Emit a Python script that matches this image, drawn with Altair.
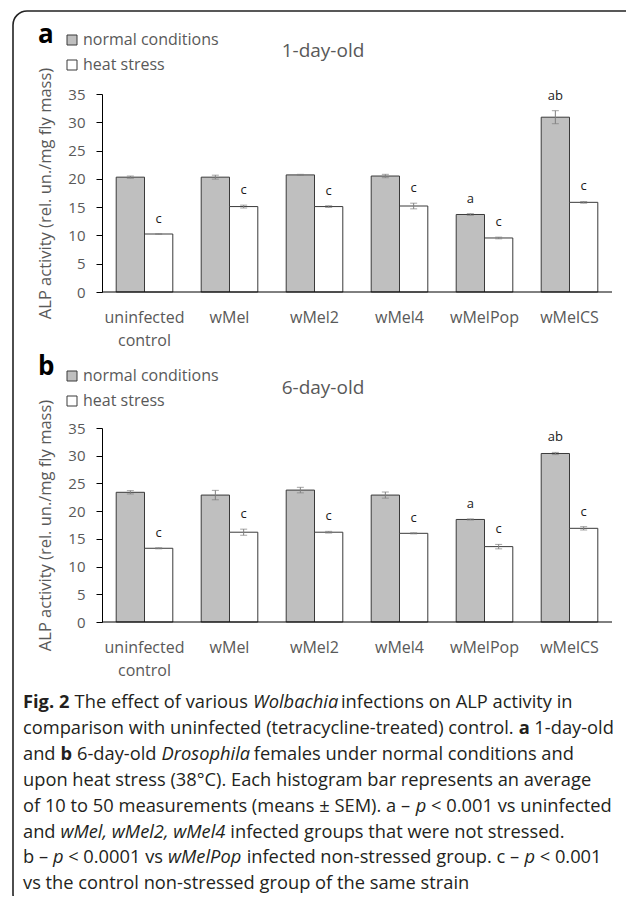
import altair as alt
import pandas as pd

# ---------------- data ----------------
categories = ["uninfected\ncontrol", "wMel", "wMel2", "wMel4", "wMelPop", "wMelCS"]
conditions = ["normal conditions", "heat stress"]

# panel a: 1-day-old
a_normal = [20.3, 20.3, 20.7, 20.5, 13.7, 30.9]
a_normal_err = [0.2, 0.35, 0.1, 0.3, 0.15, 1.15]
a_heat = [10.25, 15.1, 15.1, 15.2, 9.55, 15.85]
a_heat_err = [0.05, 0.25, 0.15, 0.5, 0.15, 0.15]
a_normal_sig = ["", "", "", "", "a", "ab"]
a_heat_sig = ["c", "c", "c", "c", "c", "c"]

# panel b: 6-day-old
b_normal = [23.4, 22.9, 23.8, 22.9, 18.5, 30.4]
b_normal_err = [0.3, 0.85, 0.5, 0.55, 0.1, 0.2]
b_heat = [13.3, 16.2, 16.2, 16.0, 13.6, 16.9]
b_heat_err = [0.1, 0.55, 0.15, 0.1, 0.4, 0.3]
b_normal_sig = ["", "", "", "", "a", "ab"]
b_heat_sig = ["c", "c", "c", "c", "c", "c"]

y_ticks = [0, 5, 10, 15, 20, 25, 30, 35]
y_title = "ALP activity (rel. un./mg fly mass)"

caption_lines = [
    [("Fig. 2", "b"), ("The effect of various", "n"), ("Wolbachia", "i"),
     ("infections on ALP activity in", "n")],
    [("comparison with uninfected (tetracycline-treated) control.", "n"), ("a", "b"),
     ("1-day-old", "n")],
    [("and", "n"), ("b", "b"), ("6-day-old", "n"), ("Drosophila", "i"),
     ("females under normal conditions and", "n")],
    [("upon heat stress (38\u00b0C). Each histogram bar represents an average", "n")],
    [("of 10 to 50 measurements (means \u00b1 SEM). a \u2013", "n"), ("p", "i"),
     ("< 0.001 vs uninfected", "n")],
    [("and", "n"), ("wMel, wMel2, wMel4", "i"), ("infected groups that were not stressed.", "n")],
    [("b \u2013", "n"), ("p", "i"), ("< 0.0001 vs", "n"), ("wMelPop", "i"),
     ("infected non-stressed group. c \u2013", "n"), ("p", "i"), ("< 0.001", "n")],
    [("vs the control non-stressed group of the same strain", "n")],
]

# ---------------- layout ----------------
FONT = "Open Sans"
LEFT = 94          # plot origin offset inside the svg
PLOT_W = 510
TOTAL_H = 888
GRAY_TXT = "#595959"


def make_df(normal, normal_err, heat, heat_err, nsig, hsig):
    rows = []
    for i, c in enumerate(categories):
        rows.append(dict(cat=c, cond=conditions[0], value=normal[i], err=normal_err[i], sig=nsig[i]))
        rows.append(dict(cat=c, cond=conditions[1], value=heat[i], err=heat_err[i], sig=hsig[i]))
    return pd.DataFrame(rows)


def one(text):
    return pd.DataFrame({"t": [text]})


def panel(df, y0, y1, letter, title, title_y, legend_y, letter_y, label_y):
    xs = alt.Scale(paddingInner=0.334, paddingOuter=0.167)
    x = alt.X("cat:N", sort=categories, scale=xs, axis=None)
    xo = alt.XOffset("cond:N", sort=conditions,
                     scale=alt.Scale(domain=conditions, paddingInner=0, paddingOuter=0))
    ys = alt.Scale(domain=[0, 35], range=[y0, y1], nice=False)
    yaxis = alt.Axis(orient="left", values=y_ticks, grid=False, title=y_title,
                     domainColor="#000000", tickColor="#000000", tickSize=6,
                     labelFont=FONT, labelFontSize=15, labelColor=GRAY_TXT, labelPadding=11,
                     titleFont=FONT, titleFontSize=16.5, titleFontWeight="normal",
                     titleColor=GRAY_TXT, titleX=-57, titleY=(y0 + y1) / 2, titleAngle=270,
                     titleAlign="center", titleBaseline="middle")
    base = alt.Chart(df).transform_calculate(
        lo="datum.value - datum.err", hi="datum.value + datum.err")
    bars = base.mark_bar(stroke="#3a3a3a", strokeWidth=1).encode(
        x=x, xOffset=xo,
        y=alt.Y("value:Q", scale=ys, axis=yaxis),
        fill=alt.Fill("cond:N", sort=conditions,
                      scale=alt.Scale(domain=conditions, range=["#bfbfbf", "#ffffff"]),
                      legend=alt.Legend(orient="none", legendX=-38, legendY=legend_y,
                                        title=None, symbolType="square", symbolSize=100,
                                        symbolStrokeColor="#3a3a3a", symbolStrokeWidth=1,
                                        labelFont=FONT, labelFontSize=16, labelColor=GRAY_TXT,
                                        labelOffset=3, rowPadding=9, padding=0)),
    )
    err = base.mark_rule(color="#7f7f7f", strokeWidth=1).encode(
        x=x, xOffset=xo, y=alt.Y("lo:Q", scale=ys, axis=yaxis), y2="hi:Q")
    cap_hi = base.mark_tick(color="#7f7f7f", size=7, thickness=1, orient="horizontal").encode(
        x=x, xOffset=xo, y=alt.Y("hi:Q", scale=ys, axis=yaxis))
    cap_lo = base.mark_tick(color="#7f7f7f", size=7, thickness=1, orient="horizontal").encode(
        x=x, xOffset=xo, y=alt.Y("lo:Q", scale=ys, axis=yaxis))
    sig = base.mark_text(font=FONT, fontSize=13, color="#1a1a1a", dy=-15,
                         baseline="middle").encode(
        x=x, xOffset=xo, y=alt.Y("hi:Q", scale=ys, axis=yaxis), text="sig:N")
    zero = alt.Chart(one("")).mark_rule(color="#000000", strokeWidth=1).encode(
        x=alt.value(0), x2=alt.value(PLOT_W), y=alt.Y(datum=0, scale=ys, axis=yaxis))
    cat_labels = alt.Chart(pd.DataFrame({"cat": categories})).mark_text(
        font=FONT, fontSize=16, color=GRAY_TXT, lineBreak="\n", lineHeight=23,
        baseline="top", align="center").encode(
        x=x, y=alt.value(label_y), text="cat:N")
    ttl = alt.Chart(one(title)).mark_text(
        font=FONT, fontSize=19, color=GRAY_TXT, align="center", baseline="middle").encode(
        x=alt.value(221), y=alt.value(title_y), text="t:N")
    let = alt.Chart(one(letter)).mark_text(
        font=FONT, fontSize=26, fontWeight="bold", color="#000000", align="left",
        baseline="alphabetic").encode(x=alt.value(-64), y=alt.value(letter_y), text="t:N")
    return alt.layer(bars, err, cap_hi, cap_lo, sig, zero, cat_labels, ttl, let)


df_a = make_df(a_normal, a_normal_err, a_heat, a_heat_err, a_normal_sig, a_heat_sig)
df_b = make_df(b_normal, b_normal_err, b_heat, b_heat_err, b_normal_sig, b_heat_sig)

panel_a = panel(df_a, 284, 86, "a", "1-day-old", 43, 24, 35, 302)
panel_b = panel(df_b, 614, 420, "b", "6-day-old", 380, 360, 367, 632)

# ---------------- caption ----------------
W_REG = {' ': 0.26, 'a': 0.556, 'b': 0.613, 'c': 0.476, 'd': 0.613, 'e': 0.561, 'f': 0.339,
         'g': 0.548, 'h': 0.614, 'i': 0.253, 'j': 0.253, 'k': 0.525, 'l': 0.253, 'm': 0.93,
         'n': 0.614, 'o': 0.604, 'p': 0.613, 'q': 0.613, 'r': 0.408, 's': 0.477, 't': 0.353,
         'u': 0.614, 'v': 0.501, 'w': 0.778, 'x': 0.524, 'y': 0.502, 'z': 0.463,
         'A': 0.633, 'B': 0.647, 'C': 0.631, 'D': 0.729, 'E': 0.556, 'F': 0.516, 'L': 0.519,
         'M': 0.907, 'P': 0.603, 'S': 0.549, 'T': 0.553, 'W': 0.93,
         '.': 0.266, ',': 0.246, '-': 0.322, '\u2013': 0.5, '(': 0.296, ')': 0.296,
         '<': 0.572, '\u00b1': 0.572, '\u00b0': 0.419, '/': 0.371}
STYLE_MUL = {"n": 1.0, "b": 1.06, "i": 0.935}
CAP_SIZE = 18.3
CAP_X0 = -79
CAP_Y0 = 695
CAP_DY = 25.9


def text_w(s, style):
    return sum(W_REG.get(ch, 0.572) for ch in s) * STYLE_MUL[style] * CAP_SIZE


caption_layers = []
for li, segs in enumerate(caption_lines):
    xpos = CAP_X0
    for s, style in segs:
        mark_kw = dict(font=FONT, fontSize=CAP_SIZE, color="#231f20", align="left",
                       baseline="middle")
        if style == "b":
            mark_kw["fontWeight"] = "bold"
        if style == "i":
            mark_kw["fontStyle"] = "italic"
        caption_layers.append(
            alt.Chart(one(s)).mark_text(**mark_kw).encode(
                x=alt.value(xpos), y=alt.value(CAP_Y0 + li * CAP_DY), text="t:N"))
        xpos += text_w(s, style) + W_REG[' '] * CAP_SIZE

border = alt.Chart(one("")).mark_rect(
    fill="transparent", stroke="#222222", strokeWidth=1.6, cornerRadius=14).encode(
    x=alt.value(-89), x2=alt.value(537), y=alt.value(3), y2=alt.value(900))

chart = alt.layer(border, panel_a, panel_b, *caption_layers).resolve_scale(
    y="independent", fill="independent"
).properties(
    width=PLOT_W, height=TOTAL_H, autosize="none",
    padding={"left": LEFT, "right": 14, "top": 0, "bottom": 0}
).configure_view(stroke=None)

chart.save("out.html", embed_options={"renderer": "svg", "actions": False})
